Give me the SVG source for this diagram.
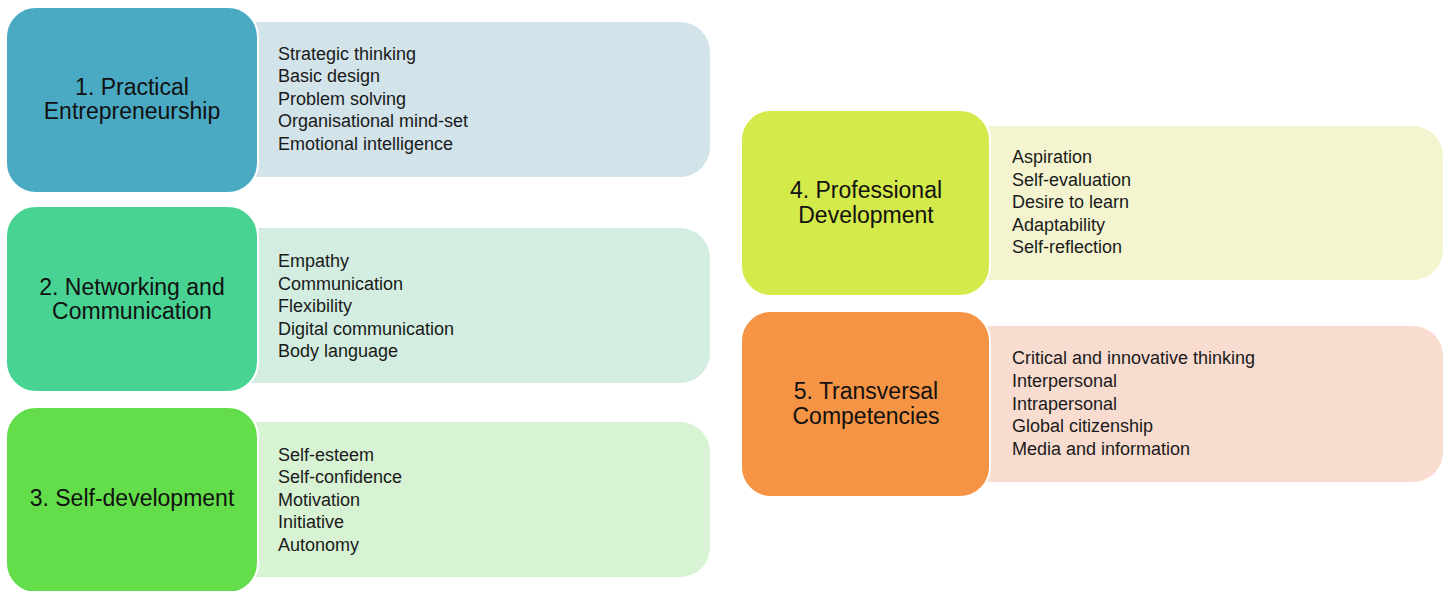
<svg xmlns="http://www.w3.org/2000/svg" width="1450" height="591" viewBox="0 0 1450 591">
<style>
.h{font-family:"Liberation Sans",Arial,sans-serif;font-size:23px;fill:#111;text-anchor:middle}
.l{font-family:"Liberation Sans",Arial,sans-serif;font-size:18px;fill:#1a1a1a}
.d{stroke:#ffffff;stroke-width:2}
</style>
<rect width="1450" height="591" fill="#ffffff"/>
<g id="node1">
<rect x="200" y="22" width="510" height="155" rx="30" fill="#d2e3ea"/>
<rect class="d" x="6" y="7" width="252" height="186" rx="30" fill="#4aaac4"/>
<text class="h" x="132" y="95">1. Practical</text>
<text class="h" x="132" y="119">Entrepreneurship</text>
<text class="l" x="278" y="60">Strategic thinking</text>
<text class="l" x="278" y="82">Basic design</text>
<text class="l" x="278" y="105">Problem solving</text>
<text class="l" x="278" y="127">Organisational mind-set</text>
<text class="l" x="278" y="150">Emotional intelligence</text>
</g>
<g id="node2">
<rect x="200" y="228" width="510" height="155" rx="30" fill="#d3eee1"/>
<rect class="d" x="6" y="206" width="252" height="186" rx="30" fill="#48d393"/>
<text class="h" x="132" y="295">2. Networking and</text>
<text class="h" x="132" y="319">Communication</text>
<text class="l" x="278" y="267">Empathy</text>
<text class="l" x="278" y="290">Communication</text>
<text class="l" x="278" y="312">Flexibility</text>
<text class="l" x="278" y="335">Digital communication</text>
<text class="l" x="278" y="357">Body language</text>
</g>
<g id="node3">
<rect x="200" y="422" width="510" height="155" rx="30" fill="#d8f2d4"/>
<rect class="d" x="6" y="407" width="252" height="186" rx="30" fill="#63de4a"/>
<text class="h" x="132" y="506">3. Self-development</text>
<text class="l" x="278" y="461">Self-esteem</text>
<text class="l" x="278" y="483">Self-confidence</text>
<text class="l" x="278" y="506">Motivation</text>
<text class="l" x="278" y="528">Initiative</text>
<text class="l" x="278" y="551">Autonomy</text>
</g>
<g id="node4">
<rect x="930" y="126" width="513" height="154" rx="30" fill="#f4f5d0"/>
<rect class="d" x="741" y="110" width="249" height="186" rx="30" fill="#d4e94a"/>
<text class="h" x="866" y="198">4. Professional</text>
<text class="h" x="866" y="223">Development</text>
<text class="l" x="1012" y="163">Aspiration</text>
<text class="l" x="1012" y="186">Self-evaluation</text>
<text class="l" x="1012" y="208">Desire to learn</text>
<text class="l" x="1012" y="231">Adaptability</text>
<text class="l" x="1012" y="253">Self-reflection</text>
</g>
<g id="node5">
<rect x="930" y="326" width="513" height="156" rx="30" fill="#f9dcd0"/>
<rect class="d" x="741" y="311" width="249" height="186" rx="30" fill="#f59445"/>
<text class="h" x="866" y="399">5. Transversal</text>
<text class="h" x="866" y="424">Competencies</text>
<text class="l" x="1012" y="364">Critical and innovative thinking</text>
<text class="l" x="1012" y="387">Interpersonal</text>
<text class="l" x="1012" y="410">Intrapersonal</text>
<text class="l" x="1012" y="432">Global citizenship</text>
<text class="l" x="1012" y="455">Media and information</text>
</g>
<g id="connectors"></g>
</svg>
